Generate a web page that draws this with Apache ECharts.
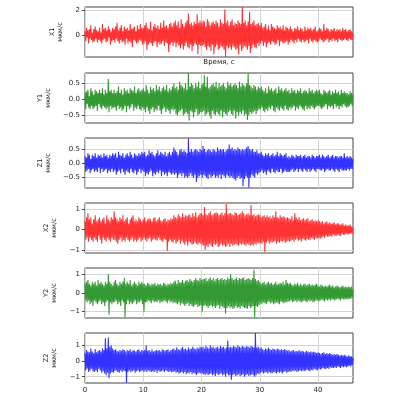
<!DOCTYPE html>
<html>
<head>
<meta charset="utf-8">
<script src="https://cdn.jsdelivr.net/npm/echarts@6/dist/echarts.min.js"></script>
<style>
  html, body { margin: 0; padding: 0; background: #fff; }
  #main { width: 400px; height: 400px; }
</style>
</head>
<body>
<div id="main"></div>
<script>
// sampling step, seconds
const dt = 0.125;

// channel names and units
const names = ['X1', 'Y1', 'Z1', 'X2', 'Y2', 'Z2'];
const unit = 'мкм/с';
const colors = ['#ff3333', '#339933', '#3333ff', '#ff3333', '#339933', '#3333ff'];

// x axis
const xTicks = [0, 10, 20, 30, 40];
const xMax = 46;

// y axis ranges and ticks
const yMin = [-1.8, -0.73, -0.86, -1.15, -1.34, -1.4];
const yMax = [2.3, 0.82, 0.88, 1.3, 1.34, 1.78];
const yTicks = [[0, 2], [-0.5, 0, 0.5], [-0.5, 0, 0.5], [-1, 0, 1], [-1, 0, 1], [-1, 0, 1]];

// velocity, мкм/с (one value every 0.125 s)
const x1 = [
  0.3,-0.5,0.6,-0.2,0.4,-0.7,0.5,-0.3,0.8,-0.4,0.2,-0.6,0.5,-0.5,0.7,-0.3,0.4,-0.6,0.3,-0.4,
  0.6,-0.5,0.2,-0.7,0.9,-0.4,0.5,-0.3,0.6,-0.6,0.4,-0.5,0.7,-0.2,0.5,-0.8,0.3,-0.5,0.6,-0.4,
  0.5,-0.6,0.7,-0.3,1.0,-0.5,0.4,-0.7,0.6,-0.4,0.8,-0.6,0.3,-0.5,0.7,-0.8,0.5,-0.3,0.6,-0.7,
  0.4,-0.5,0.9,-0.6,0.5,-1.0,0.6,-0.4,0.7,-0.5,0.3,-0.7,0.8,-0.6,0.5,-0.4,0.9,-0.5,0.6,-0.8,
  0.6,-0.7,0.8,-0.5,1.0,-1.2,0.6,-0.8,0.5,-0.6,1.1,-0.7,0.4,-0.9,0.7,-0.6,0.9,-0.5,0.6,-1.0,
  0.8,-0.6,0.5,-0.8,1.0,-0.7,0.6,-0.5,1.2,-0.9,0.7,-0.6,0.8,-0.7,0.6,-1.4,0.9,-0.8,1.0,-0.6,
  0.7,-0.9,1.0,-0.6,1.2,-1.0,0.8,-0.7,1.1,-0.9,0.6,-1.1,1.3,-0.8,0.9,-1.2,0.7,-0.9,1.0,-0.6,
  1.2,-1.0,1.76,-1.1,0.9,-0.8,1.0,-1.3,0.8,-0.9,1.1,-0.7,0.9,-0.8,1.7,-1.57,1.0,-0.8,1.2,-0.9,
  1.0,-0.9,1.2,-0.8,1.1,-1.0,0.7,-1.2,1.3,-0.9,1.1,-1.0,0.8,-1.3,1.0,-0.8,1.1,-1.57,0.9,-1.0,
  1.2,-0.8,1.0,-1.2,0.7,-1.1,1.3,-0.9,1.0,-1.0,0.9,-1.2,2.1,-1.8,1.0,-0.9,1.2,-1.1,0.8,-1.0,
  1.1,-1.2,1.3,-0.9,0.8,-1.0,1.0,-1.2,0.9,-1.1,1.2,-1.6,1.0,-0.8,0.9,-1.3,2.3,-1.1,1.0,-0.9,
  1.2,-1.0,0.8,-1.2,1.1,-0.9,1.9,-1.5,0.9,-1.1,1.0,-0.8,1.2,-1.0,0.8,-1.1,0.9,-0.7,1.0,-0.9,
  0.8,-0.7,1.0,-0.5,0.6,-0.9,0.7,-0.6,0.9,-1.0,0.5,-0.7,0.8,-0.6,0.4,-0.8,0.9,-0.5,0.7,-0.6,
  0.6,-0.8,0.5,-0.7,0.8,-0.4,0.6,-0.9,0.7,-0.5,0.5,-0.6,0.8,-0.7,0.4,-0.6,0.7,-0.5,0.6,-0.8,
  0.5,-0.6,0.7,-0.4,0.5,-0.5,0.3,-0.7,0.6,-0.4,0.5,-0.6,0.7,-0.3,0.4,-0.5,0.6,-0.6,0.5,-0.4,
  0.3,-0.6,0.7,-0.5,0.4,-0.4,0.6,-0.7,0.5,-0.3,0.6,-0.5,0.4,-0.6,0.5,-0.4,0.7,-0.5,0.3,-0.6,
  0.4,-0.5,0.6,-0.3,0.5,-0.4,0.3,-0.6,0.9,-0.5,0.4,-0.4,0.6,-0.3,0.5,-0.6,0.3,-0.4,0.5,-0.5,
  0.4,-0.3,0.6,-0.5,0.3,-0.4,0.5,-0.6,0.4,-0.3,0.5,-0.4,0.3,-0.5,0.6,-0.4,0.4,-0.3,0.5,-0.4,
  0.3,-0.5,0.4,-0.3,0.5,-0.4,0.3,-0.4,0.2
];
const y1 = [
  0.2,-0.3,0.25,-0.15,0.3,-0.25,0.1,-0.3,0.35,-0.2,0.25,-0.3,0.15,-0.25,0.3,-0.2,0.25,-0.35,0.2,-0.15,
  0.3,-0.25,0.2,-0.3,0.35,-0.2,0.15,-0.25,0.3,-0.3,0.2,-0.25,0.63,-0.4,0.25,-0.2,0.3,-0.3,0.2,-0.25,
  0.3,-0.25,0.2,-0.35,0.25,-0.2,0.4,-0.3,0.2,-0.25,0.3,-0.35,0.15,-0.3,0.35,-0.2,0.25,-0.4,0.3,-0.2,
  0.2,-0.3,0.35,-0.25,0.3,-0.15,0.25,-0.35,0.4,-0.25,0.2,-0.3,0.3,-0.2,0.35,-0.3,0.25,-0.35,0.3,-0.25,
  0.35,-0.3,0.25,-0.4,0.45,-0.25,0.3,-0.35,0.2,-0.45,0.4,-0.3,0.3,-0.25,0.35,-0.4,0.25,-0.3,0.45,-0.35,
  0.3,-0.2,0.4,-0.35,0.25,-0.45,0.35,-0.3,0.4,-0.25,0.3,-0.4,0.45,-0.3,0.25,-0.35,0.35,-0.45,0.3,-0.3,
  0.4,-0.35,0.5,-0.3,0.35,-0.45,0.4,-0.5,0.3,-0.4,0.55,-0.35,0.45,-0.3,0.4,-0.5,0.35,-0.45,0.5,-0.4,
  0.3,-0.45,0.82,-0.65,0.4,-0.35,0.5,-0.4,0.45,-0.55,0.35,-0.4,0.5,-0.3,0.4,-0.5,0.55,-0.45,0.35,-0.4,
  0.45,-0.4,0.5,-0.35,0.75,-0.5,0.4,-0.45,0.7,-0.4,0.35,-0.5,0.4,-0.6,0.45,-0.35,0.5,-0.45,0.4,-0.5,
  0.55,-0.4,0.35,-0.45,0.5,-0.5,0.4,-0.35,0.45,-0.55,0.5,-0.4,0.4,-0.45,0.35,-0.5,0.55,-0.4,0.45,-0.35,
  0.5,-0.45,0.4,-0.5,0.45,-0.35,0.5,-0.6,0.45,-0.4,0.35,-0.5,0.55,-0.4,0.4,-0.45,0.5,-0.35,0.45,-0.5,
  0.4,-0.45,0.5,-0.64,0.82,-0.5,0.45,-0.4,0.4,-0.45,0.35,-0.4,0.45,-0.35,0.4,-0.45,0.3,-0.35,0.4,-0.3,
  0.35,-0.3,0.4,-0.25,0.3,-0.35,0.25,-0.4,0.35,-0.3,0.2,-0.35,0.4,-0.25,0.3,-0.3,0.35,-0.2,0.25,-0.35,
  0.3,-0.4,0.35,-0.25,0.2,-0.3,0.4,-0.35,0.3,-0.25,0.35,-0.3,0.25,-0.35,0.3,-0.2,0.35,-0.3,0.25,-0.35,
  0.3,-0.25,0.2,-0.3,0.35,-0.25,0.25,-0.2,0.3,-0.35,0.2,-0.25,0.3,-0.3,0.25,-0.2,0.35,-0.25,0.2,-0.3,
  0.25,-0.35,0.3,-0.2,0.25,-0.3,0.2,-0.25,0.35,-0.3,0.25,-0.2,0.3,-0.25,0.2,-0.3,0.25,-0.25,0.3,-0.2,
  0.25,-0.2,0.3,-0.25,0.2,-0.3,0.15,-0.25,0.3,-0.2,0.25,-0.15,0.2,-0.3,0.25,-0.2,0.3,-0.25,0.15,-0.2,
  0.25,-0.3,0.2,-0.15,0.3,-0.25,0.2,-0.2,0.25,-0.3,0.15,-0.2,0.3,-0.25,0.2,-0.15,0.25,-0.2,0.2,-0.25,
  0.2,-0.25,0.15,-0.2,0.25,-0.15,0.2,-0.2,0.15
];
const z1 = [
  0.25,-0.3,0.2,-0.25,0.35,-0.2,0.3,-0.35,0.15,-0.25,0.3,-0.2,0.25,-0.3,0.35,-0.25,0.2,-0.3,0.3,-0.15,
  0.25,-0.35,0.3,-0.2,0.2,-0.3,0.35,-0.25,0.25,-0.2,0.3,-0.35,0.2,-0.25,0.3,-0.3,0.25,-0.2,0.35,-0.3,
  0.3,-0.25,0.35,-0.4,0.2,-0.3,0.4,-0.25,0.3,-0.35,0.25,-0.2,0.35,-0.3,0.2,-0.4,0.3,-0.25,0.35,-0.3,
  0.25,-0.35,0.4,-0.2,0.3,-0.3,0.2,-0.35,0.35,-0.25,0.3,-0.4,0.25,-0.3,0.35,-0.2,0.3,-0.35,0.4,-0.25,
  0.35,-0.3,0.4,-0.45,0.25,-0.35,0.3,-0.4,0.45,-0.3,0.35,-0.25,0.4,-0.45,0.3,-0.35,0.25,-0.4,0.35,-0.3,
  0.45,-0.35,0.3,-0.25,0.4,-0.45,0.35,-0.3,0.3,-0.4,0.4,-0.35,0.25,-0.45,0.35,-0.3,0.4,-0.35,0.3,-0.4,
  0.4,-0.35,0.55,-0.4,0.45,-0.35,0.4,-0.5,0.3,-0.4,0.45,-0.35,0.5,-0.45,0.4,-0.35,0.45,-0.5,0.4,-0.45,
  0.35,-0.5,0.86,-0.45,0.4,-0.35,0.5,-0.45,0.4,-0.5,0.45,-0.4,0.5,-0.65,0.45,-0.5,0.4,-0.45,0.5,-0.4,
  0.45,-0.5,0.6,-0.4,0.5,-0.45,0.4,-0.5,0.45,-0.55,0.5,-0.4,0.45,-0.5,0.4,-0.45,0.5,-0.4,0.45,-0.5,
  0.4,-0.45,0.55,-0.5,0.45,-0.4,0.5,-0.55,0.45,-0.4,0.5,-0.45,0.4,-0.5,0.45,-0.4,0.5,-0.45,0.65,-0.5,
  0.5,-0.45,0.55,-0.5,0.45,-0.55,0.5,-0.6,0.45,-0.5,0.55,-0.45,0.5,-0.55,0.45,-0.5,0.5,-0.8,0.45,-0.55,
  0.5,-0.45,0.55,-0.5,0.6,-0.84,0.5,-0.5,0.45,-0.4,0.5,-0.45,0.4,-0.5,0.4,-0.35,0.45,-0.4,0.35,-0.35,
  0.35,-0.3,0.4,-0.25,0.3,-0.35,0.25,-0.3,0.35,-0.4,0.3,-0.25,0.35,-0.3,0.25,-0.35,0.3,-0.2,0.35,-0.3,
  0.25,-0.35,0.3,-0.25,0.4,-0.3,0.25,-0.3,0.35,-0.2,0.3,-0.35,0.25,-0.3,0.3,-0.25,0.35,-0.3,0.2,-0.3,
  0.25,-0.3,0.2,-0.25,0.3,-0.2,0.25,-0.3,0.2,-0.25,0.3,-0.2,0.25,-0.3,0.25,-0.2,0.3,-0.25,0.2,-0.3,
  0.25,-0.2,0.3,-0.25,0.2,-0.3,0.25,-0.2,0.25,-0.3,0.2,-0.25,0.3,-0.2,0.25,-0.25,0.2,-0.3,0.25,-0.2,
  0.25,-0.2,0.3,-0.25,0.2,-0.25,0.3,-0.2,0.25,-0.3,0.2,-0.25,0.25,-0.2,0.3,-0.25,0.2,-0.25,0.25,-0.2,
  0.3,-0.25,0.2,-0.3,0.25,-0.2,0.25,-0.25,0.2,-0.3,0.25,-0.2,0.25,-0.25,0.2,-0.25,0.35,-0.25,0.2,-0.25,
  0.25,-0.2,0.2,-0.25,0.25,-0.2,0.2,-0.2,0.15
];
const x2 = [
  0.4,-0.5,0.6,-0.4,0.8,-0.6,0.5,-0.4,0.6,-0.5,0.3,-0.6,0.5,-0.4,0.7,-0.5,0.4,-0.6,0.5,-0.3,
  0.6,-0.5,0.4,-0.7,0.5,-0.4,0.6,-0.5,0.3,-0.6,0.7,-0.4,0.5,-0.5,0.4,-0.6,0.6,-0.4,0.5,-0.5,
  0.9,-0.5,0.6,-0.6,0.5,-0.7,0.4,-0.5,0.6,-0.4,0.5,-0.6,0.7,-0.5,0.4,-0.6,0.5,-0.4,0.6,-0.5,
  0.3,-0.6,0.5,-0.5,0.6,-0.4,0.7,-0.6,0.4,-0.5,0.5,-0.6,0.4,-0.5,0.6,-0.4,0.5,-0.6,0.4,-0.5,
  0.5,-0.4,0.6,-0.5,0.4,-0.6,0.5,-0.45,0.55,-0.4,0.5,-0.6,0.4,-0.5,0.55,-0.45,0.6,-0.5,0.4,-0.55,
  0.5,-0.4,0.6,-0.5,0.45,-0.55,0.4,-0.6,0.5,-0.45,0.55,-0.5,0.4,-1.05,0.5,-0.6,0.45,-0.5,0.55,-0.6,
  0.5,-0.65,0.7,-0.5,0.6,-0.7,0.55,-0.6,0.75,-0.5,0.65,-0.7,0.6,-0.55,0.8,-0.65,0.6,-0.75,0.7,-0.6,
  0.65,-0.8,0.7,-0.6,0.75,-0.65,0.6,-0.75,0.8,-0.7,0.65,-0.6,0.85,-0.7,0.6,-0.75,0.7,-0.65,0.8,-0.7,
  0.8,-0.75,0.7,-0.8,1.1,-1.0,0.75,-0.8,0.7,-0.85,0.8,-0.7,0.9,-0.8,0.7,-0.85,0.75,-0.7,0.8,-0.75,
  0.85,-0.7,0.8,-0.85,0.7,-0.8,0.75,-0.7,0.85,-0.8,0.7,-0.75,0.8,-0.85,1.25,-0.8,0.75,-0.7,0.8,-0.85,
  0.8,-0.7,0.75,-0.8,0.7,-0.75,0.85,-0.7,0.8,-0.75,0.7,-0.8,0.75,-0.7,0.8,-0.75,0.9,-0.7,0.8,-0.75,
  0.7,-0.8,0.75,-0.7,0.8,-0.75,0.7,-0.8,1.2,-0.75,0.7,-0.8,0.75,-0.7,0.65,-0.75,0.7,-0.65,0.75,-0.7,
  0.7,-0.65,0.6,-0.7,0.65,-0.6,0.7,-1.1,0.6,-0.65,0.7,-0.55,0.6,-0.7,0.65,-0.6,0.55,-0.65,0.7,-0.6,
  0.6,-0.55,0.9,-0.7,0.6,-0.6,0.55,-0.65,0.7,-0.55,0.6,-0.6,0.65,-0.55,0.6,-0.65,0.55,-0.6,0.6,-0.55,
  0.55,-0.6,0.5,-0.55,0.65,-0.5,0.45,-0.6,0.8,-0.5,0.6,-0.45,0.5,-0.55,0.6,-0.5,0.45,-0.6,0.5,-0.45,
  0.55,-0.5,0.45,-0.55,0.5,-0.45,0.55,-0.5,0.4,-0.5,0.45,-0.4,0.5,-0.45,0.4,-0.5,0.45,-0.4,0.4,-0.45,
  0.45,-0.4,0.4,-0.45,0.35,-0.4,0.4,-0.35,0.3,-0.4,0.35,-0.3,0.4,-0.35,0.3,-0.35,0.35,-0.3,0.3,-0.35,
  0.3,-0.25,0.35,-0.3,0.25,-0.3,0.3,-0.25,0.3,-0.3,0.25,-0.3,0.25,-0.2,0.3,-0.25,0.2,-0.25,0.25,-0.2,
  0.2,-0.25,0.2,-0.2,0.25,-0.2,0.15,-0.2,0.1
];
const y2 = [
  0.5,-0.4,0.6,-0.5,0.7,-0.4,0.5,-0.6,0.4,-0.5,0.6,-0.7,0.5,-0.4,0.6,-0.5,0.4,-0.6,0.7,-0.5,
  0.5,-0.4,0.6,-0.6,0.5,-0.5,0.4,-0.7,0.6,-0.5,0.5,-0.4,1.0,-1.16,0.6,-0.5,0.5,-0.6,0.4,-0.5,
  0.6,-0.5,0.7,-0.4,0.5,-0.6,0.4,-0.5,0.6,-0.7,0.5,-0.4,0.6,-0.5,0.8,-1.3,0.5,-0.6,0.6,-0.4,
  0.5,-0.6,0.7,-0.5,0.4,-0.6,0.5,-0.5,0.6,-0.4,0.5,-0.6,0.4,-0.5,0.6,-0.5,0.5,-0.4,0.6,-0.6,
  0.5,-1.0,0.5,-0.5,0.4,-0.5,0.55,-0.4,0.5,-0.45,0.4,-0.55,0.5,-0.4,0.45,-0.5,0.55,-0.45,0.4,-0.5,
  0.5,-0.4,0.45,-0.55,0.5,-0.45,0.4,-0.5,0.55,-0.4,0.5,-0.45,0.4,-0.55,0.5,-0.4,0.45,-0.5,0.55,-0.45,
  0.5,-0.55,0.6,-0.5,0.65,-0.55,0.5,-0.6,0.7,-0.5,0.55,-0.65,0.6,-0.55,0.7,-0.6,0.55,-0.7,0.65,-0.6,
  0.7,-0.55,0.6,-0.7,0.75,-0.6,0.65,-0.7,0.6,-0.75,0.7,-0.65,0.8,-0.6,0.7,-0.75,0.65,-0.7,0.8,-0.65,
  0.7,-1.0,0.75,-0.7,0.75,-0.65,0.8,-0.7,0.65,-0.8,0.75,-0.7,0.85,-0.65,0.7,-0.75,0.8,-0.7,0.65,-0.8,
  0.75,-0.7,0.8,-0.65,0.7,-0.85,0.75,-0.7,0.8,-0.75,0.7,-0.8,0.75,-1.1,0.7,-0.8,0.85,-0.7,0.75,-0.8,
  1.0,-0.75,0.8,-0.85,0.7,-0.8,0.75,-0.7,0.85,-0.8,0.7,-0.75,0.8,-0.85,0.75,-0.7,0.8,-0.75,0.85,-0.8,
  0.7,-0.8,0.75,-0.85,0.8,-0.7,0.75,-0.8,0.7,-0.75,0.8,-0.7,1.25,-1.3,0.75,-0.7,0.65,-0.75,0.7,-0.65,
  0.6,-0.55,0.5,-0.6,0.55,-0.5,0.6,-0.55,0.45,-0.6,0.55,-0.5,0.6,-0.45,0.5,-0.55,0.55,-0.5,0.45,-0.6,
  0.5,-0.55,0.6,-0.5,0.45,-0.55,0.5,-0.6,0.55,-0.45,0.5,-0.5,0.6,-0.55,0.45,-0.5,0.7,-0.5,0.55,-0.45,
  0.5,-0.45,0.55,-0.4,0.45,-0.5,0.4,-0.45,0.5,-0.4,0.45,-0.5,0.55,-0.4,0.4,-0.45,0.5,-0.5,0.4,-0.45,
  0.45,-0.4,0.5,-0.45,0.4,-0.5,0.45,-0.4,0.5,-0.45,0.4,-0.4,0.45,-0.5,0.4,-0.45,0.45,-0.4,0.5,-0.4,
  0.4,-0.45,0.35,-0.4,0.45,-0.35,0.4,-0.4,0.35,-0.45,0.4,-0.35,0.35,-0.4,0.4,-0.35,0.45,-0.4,0.35,-0.35,
  0.4,-0.35,0.3,-0.4,0.35,-0.35,0.4,-0.3,0.35,-0.35,0.3,-0.4,0.35,-0.3,0.4,-0.35,0.3,-0.35,0.35,-0.3,
  0.3,-0.35,0.35,-0.3,0.3,-0.3,0.35,-0.25,0.2
];
const z2 = [
  0.5,-0.6,0.7,-0.5,0.6,-0.7,0.55,-0.6,0.8,-0.5,0.6,-0.65,0.5,-0.7,0.75,-0.6,0.55,-0.7,0.65,-0.5,
  0.7,-0.6,0.6,-0.75,0.8,-0.65,0.7,-0.8,1.45,-0.9,0.8,-0.75,1.5,-1.1,0.9,-0.8,1.0,-0.7,0.8,-0.75,
  0.7,-0.65,0.75,-0.6,0.65,-0.7,0.6,-0.75,0.7,-0.6,0.65,-0.7,0.75,-0.6,0.7,-0.65,0.6,-1.4,0.7,-0.7,
  0.65,-0.6,0.75,-0.7,0.6,-0.65,0.7,-0.6,0.65,-0.75,0.6,-0.65,0.7,-0.6,0.75,-0.7,0.6,-0.65,0.7,-0.6,
  0.65,-0.7,0.7,-0.6,1.0,-0.7,0.65,-0.6,0.7,-0.65,0.6,-0.7,0.75,-0.65,0.6,-0.7,0.65,-0.6,0.7,-0.75,
  0.65,-0.6,0.7,-0.7,0.6,-0.65,0.75,-0.6,0.7,-0.7,0.65,-0.6,0.7,-0.65,0.75,-0.7,0.6,-0.65,0.7,-0.7,
  0.75,-0.7,0.8,-0.65,0.7,-0.75,0.85,-0.7,0.75,-0.8,0.7,-0.75,0.8,-0.7,0.9,-0.8,0.75,-0.7,0.8,-0.85,
  0.7,-0.75,0.85,-0.8,0.75,-0.7,0.8,-0.85,0.9,-0.75,0.8,-0.8,0.75,-0.9,0.85,-0.8,0.8,-0.75,0.9,-0.8,
  0.85,-0.8,0.9,-0.85,0.8,-0.9,0.95,-0.8,0.85,-0.9,0.8,-0.85,1.0,-0.8,0.85,-0.9,0.9,-0.85,0.8,-0.95,
  0.85,-0.8,0.9,-0.9,0.8,-0.85,0.95,-0.8,0.85,-0.9,0.9,-0.85,0.8,-1.0,0.85,-0.8,1.3,-0.9,0.85,-0.9,
  0.9,-1.2,0.85,-0.9,0.95,-0.85,0.9,-0.95,0.85,-0.9,1.0,-0.85,0.9,-0.95,0.85,-0.9,0.95,-0.85,0.9,-1.0,
  0.85,-0.9,0.95,-0.85,0.9,-0.95,0.85,-0.9,0.95,-0.85,0.9,-0.9,0.85,-1.0,1.78,-0.9,0.85,-0.8,0.9,-0.85,
  0.8,-0.75,0.85,-0.7,0.75,-0.8,0.7,-0.75,0.8,-0.7,0.75,-0.8,0.85,-0.7,0.75,-0.75,0.7,-0.8,0.8,-0.7,
  0.75,-0.75,0.7,-0.8,0.8,-0.7,0.75,-0.75,0.7,-0.7,0.75,-0.8,0.7,-0.7,0.75,-0.65,0.7,-0.75,0.65,-0.7,
  0.7,-0.65,0.6,-0.7,0.65,-0.6,0.7,-0.65,0.6,-0.6,0.65,-0.7,0.6,-0.65,0.7,-0.6,0.6,-0.65,0.65,-0.6,
  0.6,-0.65,0.55,-0.6,0.65,-0.55,0.6,-0.6,0.55,-0.65,0.6,-0.55,0.55,-0.6,0.6,-0.5,0.55,-0.55,0.5,-0.6,
  0.55,-0.5,0.5,-0.55,0.45,-0.5,0.5,-0.45,0.55,-0.5,0.45,-0.5,0.5,-0.45,0.45,-0.5,0.5,-0.4,0.45,-0.45,
  0.4,-0.45,0.45,-0.4,0.4,-0.45,0.45,-0.35,0.4,-0.4,0.35,-0.45,0.4,-0.35,0.35,-0.4,0.4,-0.35,0.35,-0.4,
  0.3,-0.35,0.35,-0.3,0.3,-0.35,0.3,-0.25,0.2
];

const signals = [x1, y1, z1, x2, y2, z2];

// panel layout
const panelTop = [7, 73, 138, 203, 268, 333];
const panelH = 50;
const nameGap = [15, 20, 20, 17, 17, 17];

const font = 'DejaVu Sans';
const minus = v => String(v).replace('-', '\u2212');

const chart = echarts.init(document.getElementById('main'));

const grid = [], xAxis = [], yAxis = [], series = [];
signals.forEach((vals, i) => {
  grid.push({
    left: 85, width: 268, top: panelTop[i], height: panelH,
    show: true, borderColor: '#444', borderWidth: 1, backgroundColor: 'transparent'
  });
  const last = i === signals.length - 1;
  xAxis.push({
    type: 'value', gridIndex: i, min: 0, max: xMax,
    name: i === 0 ? 'Время, с' : '',
    nameLocation: 'middle', nameGap: 2,
    nameTextStyle: { fontFamily: font, fontSize: 7, color: '#222', verticalAlign: 'top' },
    axisLine: { show: false },
    axisTick: { show: true, length: 3, lineStyle: { color: '#444' }, customValues: xTicks },
    axisLabel: { show: last, fontFamily: font, fontSize: 7, color: '#222', margin: 4, customValues: xTicks },
    splitLine: { show: true, lineStyle: { color: '#d4d4d4', width: 1 } }
  });
  yAxis.push({
    type: 'value', gridIndex: i, min: yMin[i], max: yMax[i],
    name: names[i] + '\n' + unit,
    nameLocation: 'middle', nameRotate: 90, nameGap: nameGap[i],
    nameTextStyle: { fontFamily: font, fontSize: 6.5, color: '#222', lineHeight: 8 },
    axisLine: { show: false },
    axisTick: { show: true, length: 3, lineStyle: { color: '#444' }, customValues: yTicks[i] },
    axisLabel: {
      fontFamily: font, fontSize: 7, color: '#222', margin: 5, customValues: yTicks[i],
      formatter: v => minus(i === 1 || i === 2 ? v.toFixed(1) : v)
    },
    splitLine: { show: true, lineStyle: { color: '#d4d4d4', width: 1 } }
  });
  series.push({
    type: 'line', xAxisIndex: i, yAxisIndex: i,
    data: vals.map((v, k) => [k * dt, v]),
    showSymbol: false, symbol: 'none',
    lineStyle: { color: colors[i], width: 1.1 },
    clip: true
  });
});

chart.setOption({
  animation: false,
  backgroundColor: '#fff',
  grid, xAxis, yAxis, series
});
</script>
</body>
</html>
